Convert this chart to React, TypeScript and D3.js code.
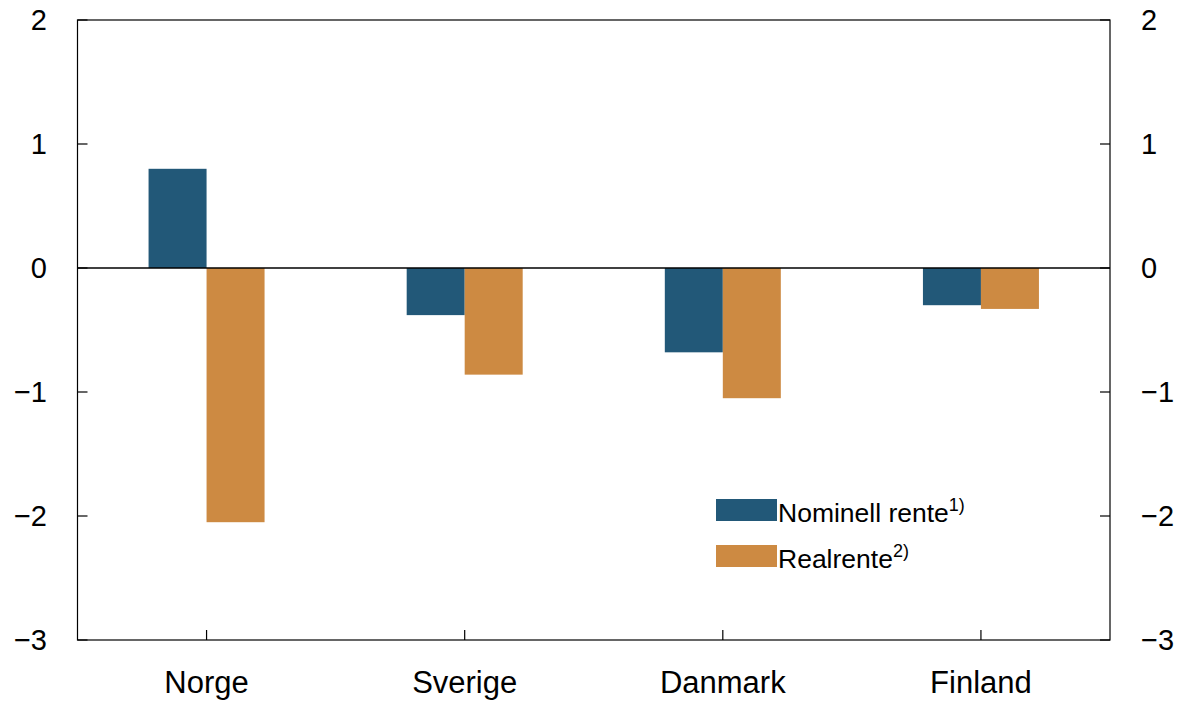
import * as d3 from "d3";

const categories = ["Norge", "Sverige", "Danmark", "Finland"];
const seriesNames = ["Nominell rente", "Realrente"];
const footnotes = ["1)", "2)"];
const nominal = [0.8, -0.38, -0.68, -0.3];
const real = [-2.05, -0.86, -1.05, -0.33];
const yTicks = [2, 1, 0, -1, -2, -3];
const colors = ["#225878", "#cd8a42"];

const W = 1182;
const H = 704;
const margin = { top: 20, right: 72, bottom: 64, left: 77.5 };
const font = "'Liberation Sans', Arial, Helvetica, sans-serif";

const fmt = (v: number) => (v < 0 ? `\u2212${Math.abs(v)}` : `${v}`);

export default function App() {
  const x0 = margin.left;
  const x1 = W - margin.right;
  const y0 = margin.top;
  const y1 = H - margin.bottom;

  const xScale = d3.scaleBand().domain(categories).range([x0, x1]).padding(0);
  const inner = d3.scaleBand().domain(seriesNames).range([-58, 58]).padding(0);
  const yScale = d3.scaleLinear().domain([-3, 2]).range([y1, y0]);

  const values = [nominal, real];

  return (
    <svg
      width={W}
      height={H}
      style={{ position: "absolute", left: 0, top: 0, display: "block" }}
      fontFamily={font}
    >
      <rect x={0} y={0} width={W} height={H} fill="#fff" />
      {/* bars */}
      {categories.map((c, i) => (
        <g key={c}>
          {seriesNames.map((s, j) => {
            const v = values[j][i];
            const cx = (xScale(c) || 0) + xScale.bandwidth() / 2;
            return (
              <rect
                key={s}
                x={cx + (inner(s) || 0)}
                y={yScale(Math.max(0, v))}
                width={inner.bandwidth()}
                height={Math.abs(yScale(v) - yScale(0))}
                fill={colors[j]}
              />
            );
          })}
        </g>
      ))}

      {/* frame */}
      <rect x={x0} y={y0} width={x1 - x0} height={y1 - y0} fill="none" stroke="#000" strokeWidth={1.2} />
      {/* zero line */}
      <line x1={x0} x2={x1} y1={yScale(0)} y2={yScale(0)} stroke="#000" strokeWidth={1.6} />

      {/* y ticks and labels */}
      {yTicks.map((t) => (
        <g key={t}>
          <line x1={x0} x2={x0 + 10} y1={yScale(t)} y2={yScale(t)} stroke="#000" strokeWidth={1.2} />
          <line x1={x1 - 10} x2={x1} y1={yScale(t)} y2={yScale(t)} stroke="#000" strokeWidth={1.2} />
          <text x={47} y={yScale(t)} dy="0.36em" textAnchor="end" fontSize={29}>
            {fmt(t)}
          </text>
          <text x={1141} y={yScale(t)} dy="0.36em" textAnchor="start" fontSize={29}>
            {fmt(t)}
          </text>
        </g>
      ))}

      {/* x ticks and labels */}
      {categories.map((c) => {
        const cx = (xScale(c) || 0) + xScale.bandwidth() / 2;
        return (
          <g key={c}>
            <line x1={cx} x2={cx} y1={y1} y2={y1 - 10} stroke="#000" strokeWidth={1.2} />
            <text x={cx} y={693} textAnchor="middle" fontSize={31}>
              {c}
            </text>
          </g>
        );
      })}

      {/* legend */}
      {seriesNames.map((s, j) => (
        <g key={s} transform={`translate(716, ${499 + j * 46})`}>
          <rect x={0} y={0} width={61} height={22} fill={colors[j]} />
          <text x={62} y={23} fontSize={26.5}>
            {s}
            <tspan fontSize={18} dy={-11}>
              {footnotes[j]}
            </tspan>
          </text>
        </g>
      ))}
    </svg>
  );
}
